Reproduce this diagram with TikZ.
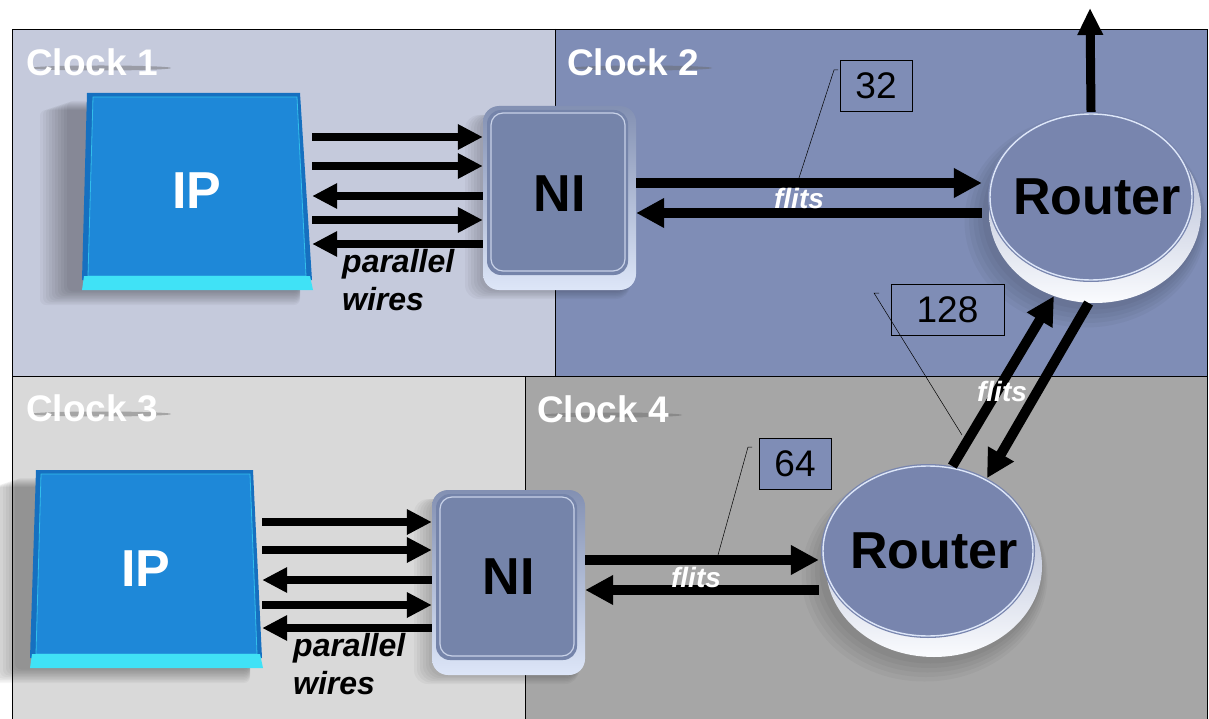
\documentclass[tikz,border=0pt]{standalone}
\usepackage{fontspec}
\setmainfont{Liberation Sans}
\usetikzlibrary{arrows.meta,shapes.geometric,calc}
\definecolor{cA}{HTML}{C5CADC}
\definecolor{cB}{HTML}{7F8DB6}
\definecolor{cC}{HTML}{D9D9D9}
\definecolor{cD}{HTML}{A6A6A6}
\definecolor{ipface}{HTML}{1E88D8}
\definecolor{ipside}{HTML}{1670C0}
\definecolor{ipedge}{HTML}{40E2F6}
\definecolor{niface}{HTML}{7584AA}
\definecolor{rface}{HTML}{7885AE}
\definecolor{rim}{HTML}{DDE6F8}
\begin{document}
\begin{tikzpicture}[x=1pt,y=-1pt,
  region/.style={draw=black,line width=0.7pt},
  clk/.style={anchor=west,text=white,inner sep=0pt,font=\bfseries\fontsize{37}{37}\selectfont},
  streak/.style={fill=black!60,opacity=0.45},
  bigtxt/.style={inner sep=0pt,font=\bfseries\fontsize{52}{52}\selectfont},
  iptxt/.style={bigtxt,text=white},
  wire/.style={line width=8.5pt,-{Triangle[length=25pt,width=24pt]}},
  flit/.style={line width=10pt,-{Triangle[length=28pt,width=28pt]}},
  pw/.style={anchor=north west,align=left,inner sep=0pt,font=\bfseries\itshape\fontsize{32}{38}\selectfont},
  flitlbl/.style={inner sep=0pt,text=white,font=\bfseries\itshape\fontsize{28}{28}\selectfont},
  numbox/.style={draw=black,line width=0.6pt,inner sep=0pt,font=\fontsize{37}{37}\selectfont},
  leader/.style={draw=black,line width=0.5pt},
  shadowc/.style={fill=black,opacity=0.035},
]
\useasboundingbox (0,0) rectangle (1209,719);
\fill[white] (0,0) rectangle (1209,719);
% regions
\fill[cA] (12,29) rectangle (555,376);
\fill[cB] (555,29) rectangle (1207,376);
\fill[cC] (12,376) rectangle (525,719);
\fill[cD] (525,376) rectangle (1207,719);
\draw[region] (12,719) -- (12,29) -- (1207,29) -- (1207,719);
\draw[region] (555,29) -- (555,376);
\draw[region] (12,376) -- (1207,376);
\draw[region] (525,376) -- (525,719);
% clock labels
\foreach \n/\x/\y/\t in {c1/26/62/Clock 1,c2/567/62/Clock 2,c3/26/408/Clock 3,c4/537/409/Clock 4}{
  \fill[streak] (\x+75,\y+6) ellipse (70 and 2.5);
  \node[clk] (\n) at (\x,\y) {\t};
}
% ---------- IP 1 ----------
\foreach \d in {3,6,...,30}{
  \fill[shadowc,rounded corners=6pt] (82-\d-12,100+\d/3) rectangle (300,290+\d/2);
}
\fill[ipside] (87,93) -- (300,93) -- (312,280) -- (82,280) -- cycle;
\fill[ipface] (93,97) -- (297,97) -- (306,276) -- (88,276) -- cycle;
\draw[ipedge!60!ipface,line width=0.8pt] (93,97) -- (297,97) -- (306,276) -- (88,276) -- cycle;
\fill[ipedge] (84,276) -- (310,276) -- (313,290) -- (82,290) -- cycle;
\node[iptxt,minimum width=230pt,minimum height=197pt] (IP1) at (197,191) {IP};
% ---------- IP 2 ----------
\foreach \d in {3,6,...,30}{
  \fill[shadowc,rounded corners=6pt] (30-\d-12,477+\d/3) rectangle (250,668+\d/2);
}
\fill[ipside] (36,470) -- (253,470) -- (262,658) -- (30,658) -- cycle;
\fill[ipface] (41,474) -- (250,474) -- (257,654) -- (36,654) -- cycle;
\draw[ipedge!60!ipface,line width=0.8pt] (41,474) -- (250,474) -- (257,654) -- (36,654) -- cycle;
\fill[ipedge] (32,654) -- (260,654) -- (263,668) -- (30,668) -- cycle;
\node[iptxt,minimum width=232pt,minimum height=198pt] (IP2) at (146,569) {IP};
% ---------- NI 1 ----------
\foreach \d in {3,6,...,18}{
  \fill[shadowc,rounded corners=14pt] (483-\d,115) rectangle (630,290+\d/2);
}
\shade[top color=niface!90!white,bottom color=rim,rounded corners=16pt] (483,106) rectangle (636,290);
\fill[niface,rounded corners=14pt] (487,110) rectangle (628,275);
\draw[rim!80!niface,line width=1.2pt,rounded corners=12pt] (491,113) rectangle (625,271);
\node[bigtxt,minimum width=153pt,minimum height=184pt] (NI1) at (559.5,198) {\raisebox{8pt}{NI}};
% ---------- NI 2 ----------
\foreach \d in {3,6,...,18}{
  \fill[shadowc,rounded corners=14pt] (432-\d,499) rectangle (579,675+\d/2);
}
\shade[top color=niface!90!white,bottom color=rim,rounded corners=16pt] (432,490) rectangle (585,675);
\fill[niface,rounded corners=14pt] (436,494) rectangle (577,660);
\draw[rim!80!niface,line width=1.2pt,rounded corners=12pt] (440,497) rectangle (574,656);
\node[bigtxt,minimum width=153pt,minimum height=185pt] (NI2) at (508.5,582.5) {\raisebox{12pt}{NI}};
% ---------- Router 1 ----------
\foreach \d in {3,6,...,15}{
  \fill[shadowc] (1093-\d/2,214+\d/2) ellipse ({106+\d} and {91+\d});
}
\shade[top color=cB!70!white,bottom color=white!85!rim] (1095,212) ellipse (106 and 91);
\node[ellipse,draw=none,minimum width=212pt,minimum height=182pt,inner sep=0pt] (R1b) at (1095,212) {};
\fill[rface] (1091,197) ellipse (103 and 85);
\draw[rim,line width=1.4pt] (1091,197) ellipse (101 and 83);
\node[ellipse,bigtxt,minimum width=206pt,minimum height=170pt] (R1) at (1091,197) {\makebox[0pt]{\hspace{12pt}Router}};
% ---------- Router 2 ----------
\foreach \d in {3,6,...,15}{
  \fill[shadowc] (932-\d/2,568+\d/2) ellipse ({108+\d} and {91+\d});
}
\shade[top color=cB!70!white,bottom color=white!85!rim] (934,566) ellipse (108 and 91);
\node[ellipse,draw=none,minimum width=216pt,minimum height=182pt,inner sep=0pt] (R2b) at (934,566) {};
\fill[rface] (928,551) ellipse (107 and 87);
\draw[rim,line width=1.4pt] (928,551) ellipse (105 and 85);
\node[ellipse,bigtxt,minimum width=214pt,minimum height=174pt] (R2) at (928,551) {\makebox[0pt]{\hspace{12pt}Router}};
% ---------- y levels ----------
\coordinate (a1) at (0,137); \coordinate (a2) at (0,166); \coordinate (a3) at (0,196);
\coordinate (a4) at (0,220); \coordinate (a5) at (0,244);
\coordinate (b1) at (0,522); \coordinate (b2) at (0,550); \coordinate (b3) at (0,580);
\coordinate (b4) at (0,605); \coordinate (b5) at (0,628);
% parallel wires 1
\draw[wire] (IP1.east |- a1) -- (NI1.west |- a1);
\draw[wire] (IP1.east |- a2) -- (NI1.west |- a2);
\draw[wire] (NI1.west |- a3) -- (IP1.east |- a3);
\draw[wire] (IP1.east |- a4) -- (NI1.west |- a4);
\draw[wire] (NI1.west |- a5) -- (IP1.east |- a5);
\node[pw] (pw1) at (342,249) {parallel\\wires};
% parallel wires 2
\draw[wire] (IP2.east |- b1) -- (NI2.west |- b1);
\draw[wire] (IP2.east |- b2) -- (NI2.west |- b2);
\draw[wire] (NI2.west |- b3) -- (IP2.east |- b3);
\draw[wire] (IP2.east |- b4) -- (NI2.west |- b4);
\draw[wire] (NI2.west |- b5) -- (IP2.east |- b5);
\node[pw] (pw2) at (293,633) {parallel\\wires};
% flits NI1 - R1
\coordinate (f1) at (0,183); \coordinate (f2) at (0,213);
\draw[flit] (NI1.east |- f1) -- ([xshift=-6pt]R1.west |- f1);
\draw[flit] ([xshift=-6pt]R1.west |- f2) -- (NI1.east |- f2);
\node[flitlbl] (fl1) at (799,198) {flits};
% flits NI2 - R2
\coordinate (g1) at (0,560); \coordinate (g2) at (0,590);
\draw[flit] (NI2.east |- g1) -- ([xshift=-2pt]R2.west |- g1);
\draw[flit] ([xshift=-2pt]R2.west |- g2) -- (NI2.east |- g2);
\node[flitlbl] (fl2) at (696,577) {flits};
% flits R2 - R1
\draw[flit] (R2.74) -- (R1b.244);
\draw[flit] (R1b.266) -- (R2.51);
\node[flitlbl] (fl3) at (1002,391) {flits};
% up arrow
\coordinate (out) at (1090,8);
\draw[line width=9pt,-{Triangle[length=27pt,width=24pt]}] (R1.north) -- (out);
% number boxes
\node[numbox,fill=cB,minimum width=72pt,minimum height=51pt] (n32) at (876,85.5) {32};
\node[numbox,fill=cB,minimum width=113pt,minimum height=51pt] (n128) at (947.5,309.5) {128};
\node[numbox,fill=cB,minimum width=72pt,minimum height=51pt] (n64) at (795,463.5) {64};
\coordinate (l32) at (834,70); \coordinate (l128) at (874,293); \coordinate (l64) at (748,447);
\draw[leader] ([xshift=4pt]l32) -- (l32) -- (798,181);
\draw[leader] ([xshift=5pt]l128) -- (l128) -- (962,435);
\draw[leader] ([xshift=4pt]l64) -- (l64) -- (718,555);
\end{tikzpicture}
\end{document}
